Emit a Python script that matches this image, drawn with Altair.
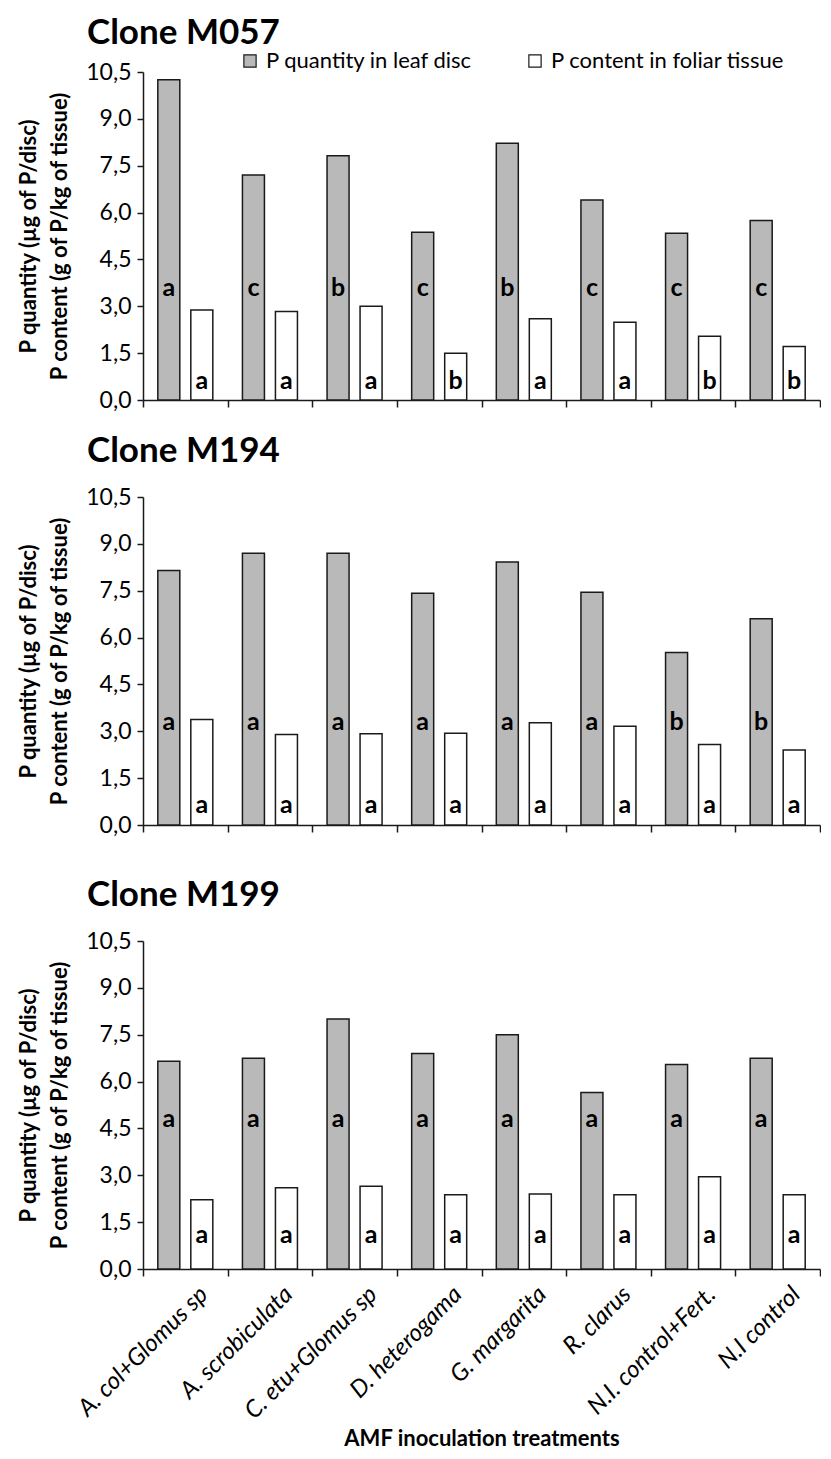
import altair as alt
import pandas as pd

categories = ["A. col+Glomus sp", "A. scrobiculata", "C. etu+Glomus sp", "D. heterogama",
              "G. margarita", "R. clarus", "N.I. control+Fert.", "N.I control"]
series = ["P quantity in leaf disc", "P content in foliar tissue"]

m057_quantity = [10.25, 7.2, 7.82, 5.37, 8.22, 6.4, 5.34, 5.75]
m057_content = [2.88, 2.83, 3.0, 1.5, 2.6, 2.49, 2.04, 1.71]
m057_quantity_letters = ["a", "c", "b", "c", "b", "c", "c", "c"]
m057_content_letters = ["a", "a", "a", "b", "a", "a", "b", "b"]

m194_quantity = [8.15, 8.7, 8.7, 7.42, 8.42, 7.45, 5.52, 6.6]
m194_content = [3.38, 2.9, 2.92, 2.94, 3.27, 3.16, 2.58, 2.4]
m194_quantity_letters = ["a", "a", "a", "a", "a", "a", "b", "b"]
m194_content_letters = ["a", "a", "a", "a", "a", "a", "a", "a"]

m199_quantity = [6.65, 6.75, 8.0, 6.9, 7.5, 5.65, 6.55, 6.75]
m199_content = [2.22, 2.6, 2.65, 2.38, 2.4, 2.38, 2.95, 2.38]
m199_quantity_letters = ["a", "a", "a", "a", "a", "a", "a", "a"]
m199_content_letters = ["a", "a", "a", "a", "a", "a", "a", "a"]

y_ticks = [0, 1.5, 3.0, 4.5, 6.0, 7.5, 9.0, 10.5]
y_title = ["P quantity (µg of P/disc)", "P content  (g of P/kg of tissue)"]
x_title = "AMF inoculation treatments"

FONT = "Lato"
GRAY = "#b9b9b9"
INK = "#1a1a1a"
W = 677
H = 328


def frame(q, c, lq, lc):
    rows = []
    for i, cat in enumerate(categories):
        rows.append({"treatment": cat, "series": series[0], "value": q[i], "letter": lq[i]})
        rows.append({"treatment": cat, "series": series[1], "value": c[i], "letter": lc[i]})
    return pd.DataFrame(rows)


def panel(title, df, gray_y, white_y, legend, bottom, spacer=False, title_offset=17):
    if bottom:
        xaxis = alt.Axis(title=x_title, titleFont=FONT, titleFontSize=22, titleFontWeight="bold",
                         titleColor="black", titlePadding=5,
                         labelAngle=-45, labelFont=FONT, labelFontStyle="italic", labelFontSize=24,
                         labelColor="black", labelPadding=6, labelLimit=400, labelOffset=10,
                         tickBand="extent", tickSize=7, tickWidth=1.5, tickColor=INK,
                         domainColor=INK, domainWidth=1.5)
    else:
        kw = dict(labels=False, tickBand="extent", tickSize=7, tickWidth=1.5, tickColor=INK,
                  domainColor=INK, domainWidth=1.5)
        if spacer:
            xaxis = alt.Axis(title=" ", titleFontSize=10, titlePadding=13, **kw)
        else:
            xaxis = alt.Axis(title=None, **kw)
    x = alt.X("treatment:N", sort=categories, axis=xaxis,
              scale=alt.Scale(paddingInner=0, paddingOuter=0))
    xoff = alt.XOffset("series:N", sort=series,
                       scale=alt.Scale(paddingInner=1 / 3, paddingOuter=0.4485))
    y = alt.Y("value:Q", scale=alt.Scale(domain=[0, 10.5], nice=False),
              axis=alt.Axis(values=y_ticks, labelExpr="replace(format(datum.value, '.1f'), '.', ',')",
                            grid=False, domainColor=INK, domainWidth=1.5, tickColor=INK,
                            tickWidth=1.5, tickSize=6, labelFont=FONT, labelFontSize=23,
                            labelColor="black", labelPadding=6,
                            title=y_title, titleFont=FONT, titleFontSize=22, titleFontWeight="bold",
                            titleColor="black", titleLineHeight=31, titlePadding=14))
    if legend:
        leg = alt.Legend(orient="none", legendX=96, legendY=-22, direction="horizontal", title=None,
                         symbolType="square", symbolSize=150, symbolStrokeColor=INK,
                         symbolStrokeWidth=1.2, labelFont=FONT, labelFontSize=22,
                         labelColor="black", labelOffset=5, labelLimit=400, columnPadding=51)
    else:
        leg = None
    color = alt.Color("series:N", sort=series,
                      scale=alt.Scale(domain=series, range=[GRAY, "white"]),
                      legend=leg)
    bars = alt.Chart(df).mark_bar(stroke=INK, strokeWidth=1.5).encode(
        x=x, xOffset=xoff, y=y, color=color)
    text = alt.Chart(df).transform_calculate(
        ly=f"datum.series === '{series[0]}' ? {gray_y} : {white_y}"
    ).mark_text(font=FONT, fontWeight="bold", fontSize=25, color="black", baseline="middle").encode(
        x=alt.X("treatment:N", sort=categories),
        xOffset=alt.XOffset("series:N", sort=series),
        y=alt.Y("ly:Q"),
        text="letter:N")
    return alt.layer(bars, text).properties(
        width=W, height=H,
        title=alt.TitleParams(title, anchor="start", frame="group", dx=-56, font=FONT, fontSize=35,
                              fontWeight="bold", color="black", offset=title_offset))


p1 = panel("Clone M057", frame(m057_quantity, m057_content, m057_quantity_letters, m057_content_letters),
           3.6, 0.6, True, False, title_offset=-1)
p2 = panel("Clone M194", frame(m194_quantity, m194_content, m194_quantity_letters, m194_content_letters),
           3.3, 0.65, False, False, spacer=True)
p3 = panel("Clone M199", frame(m199_quantity, m199_content, m199_quantity_letters, m199_content_letters),
           4.8, 1.1, False, True)

chart = alt.vconcat(p1, p2, p3, spacing=22).resolve_scale(color="independent").properties(
    padding={"left": 9, "top": 8, "right": 0, "bottom": 0}
).configure_view(stroke=None)

chart.save("out.html", embed_options={"renderer": "svg", "actions": False})
